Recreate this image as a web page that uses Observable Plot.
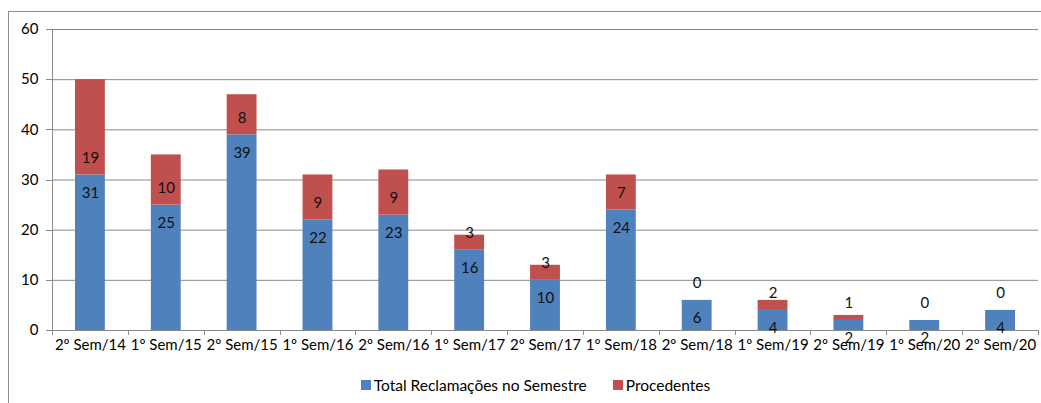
<!DOCTYPE html>
<html>
<head>
<meta charset="utf-8">
<script src="https://cdn.jsdelivr.net/npm/d3@7"></script>
<script src="https://cdn.jsdelivr.net/npm/@observablehq/plot@0.6"></script>
<style>
  html, body { margin: 0; padding: 0; background: #fff; }
  #wrap { position: absolute; left: 8px; top: 11px; width: 1033px; height: 400px;
          border-left: 1px solid #8c8c8c; border-top: 1px solid #8c8c8c; font-family: Lato, sans-serif; }
  #legend { display: flex; justify-content: center; align-items: center; margin-top: 23px; height: 20px;
            font-size: 15.5px; color: #000; padding-left: 20px; }
  .item { display: flex; align-items: center; }
  .sw { width: 10px; height: 10px; margin-right: 3px; }
  .item + .item { margin-left: 26px; }
</style>
</head>
<body>
<div id="wrap"><div id="chart"></div><div id="legend"></div></div>
<script>
const categories = ["2º Sem/14","1º Sem/15","2º Sem/15","1º Sem/16","2º Sem/16","1º Sem/17","2º Sem/17","1º Sem/18","2º Sem/18","1º Sem/19","2º Sem/19","1º Sem/20","2º Sem/20"];
const totalReclamacoes = [31,25,39,22,23,16,10,24,6,4,2,2,4];
const procedentes = [19,10,8,9,9,3,3,7,0,2,1,0,0];
const seriesNames = ["Total Reclamações no Semestre", "Procedentes"];
const seriesColors = ["#4F81BD", "#C0504D"];
const yTicks = [0,10,20,30,40,50,60];

const rows = [];
categories.forEach((c, i) => {
  rows.push({cat: c, series: seriesNames[0], value: totalReclamacoes[i]});
  rows.push({cat: c, series: seriesNames[1], value: procedentes[i]});
});
const labels = categories.map((c, i) => ({cat: c, total: totalReclamacoes[i], proc: procedentes[i]}));

function axesDecor(...args) {
  const scales = args.find(a => a && typeof a.x === "function" && typeof a.y === "function");
  const dims = args.find(a => a && a.marginLeft !== undefined && a.width !== undefined);
  const g = d3.create("svg:g").attr("stroke", "#8a8a8a").attr("stroke-width", 1).attr("fill", "none");
  const x0 = dims.marginLeft, y0 = dims.height - dims.marginBottom, yTop = dims.marginTop;
  g.append("line").attr("x1", x0 + 0.5).attr("x2", x0 + 0.5).attr("y1", yTop).attr("y2", y0);
  for (const t of yTicks) {
    const yy = Math.round(scales.y(t)) + 0.5;
    g.append("line").attr("x1", x0 - 6).attr("x2", x0 + 0.5).attr("y1", yy).attr("y2", yy);
  }
  const starts = categories.map(c => scales.x(c));
  const step = starts[1] - starts[0];
  const bounds = starts.concat([starts[starts.length - 1] + step]);
  for (const b of bounds) {
    const xx = Math.round(b) + 0.5;
    g.append("line").attr("x1", xx).attr("x2", xx).attr("y1", y0).attr("y2", y0 + 5);
  }
  return g.node();
}

const chart = Plot.plot({
  width: 1032,
  height: 340,
  marginLeft: 43,
  marginRight: 3,
  marginTop: 17,
  marginBottom: 22,
  style: {fontFamily: "Lato, sans-serif", fontSize: "15px", color: "#000", background: "transparent"},
  x: {domain: categories, padding: 0, round: false, tickSize: 0, tickPadding: 9, label: null},
  y: {domain: [0, 60], ticks: yTicks, tickSize: 0, tickPadding: 14, label: null},
  color: {domain: seriesNames, range: seriesColors},
  marks: [
    Plot.ruleY(yTicks.slice(1), {stroke: "#8a8a8a", strokeWidth: 1}),
    Plot.barY(rows, {x: "cat", y: "value", fill: "series", insetLeft: 23, insetRight: 23}),
    Plot.ruleY([0], {stroke: "#8a8a8a", strokeWidth: 1}),
    axesDecor,
    Plot.text(labels, {x: "cat", y: "total", text: d => String(d.total), dy: 18, fill: "#111", fontSize: 15}),
    Plot.text(labels, {x: "cat", y: "total", text: d => String(d.proc), dy: -17, fill: "#111", fontSize: 15})
  ]
});
document.getElementById("chart").appendChild(chart);

const legend = document.getElementById("legend");
seriesNames.forEach((name, i) => {
  const item = document.createElement("div");
  item.className = "item";
  const sw = document.createElement("div");
  sw.className = "sw";
  sw.style.background = seriesColors[i];
  const tx = document.createElement("span");
  tx.textContent = name;
  item.appendChild(sw);
  item.appendChild(tx);
  legend.appendChild(item);
});
</script>
</body>
</html>
